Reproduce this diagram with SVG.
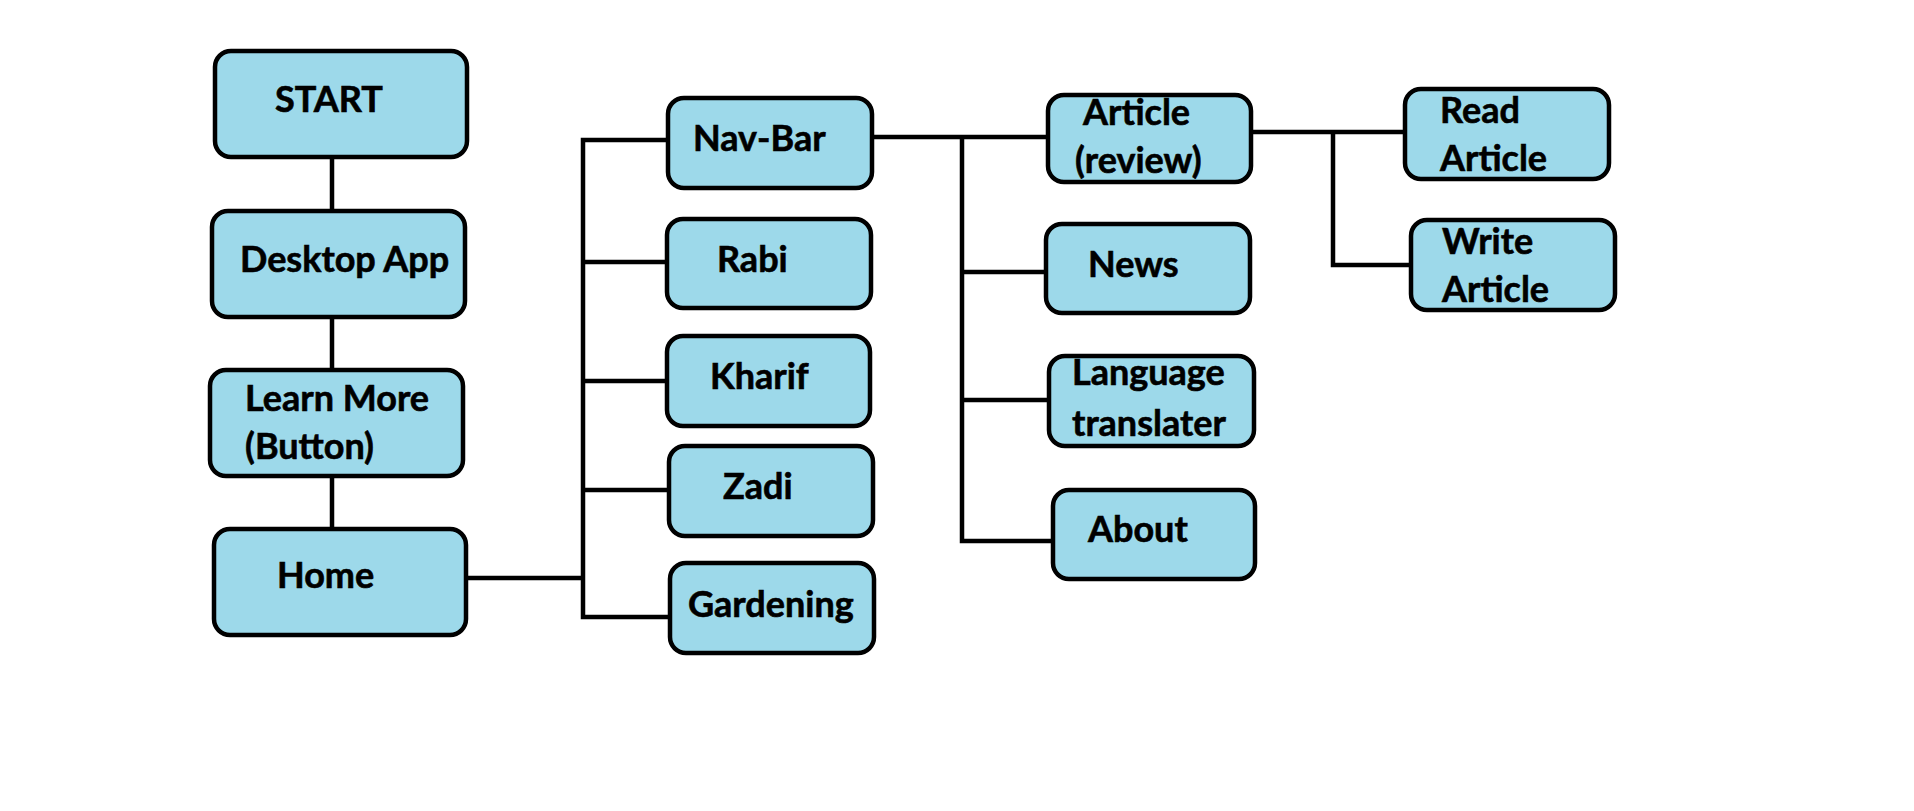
<svg xmlns="http://www.w3.org/2000/svg" width="1914" height="811" viewBox="0 0 1914 811">
<style>
.box{fill:#9DD9EA;stroke:#000;stroke-width:4.5}
.lbl{font-family:Lato,"Liberation Sans",sans-serif;font-weight:bold;font-size:36px;fill:#000;stroke:#000;stroke-width:0.6}
.con{fill:none;stroke:#000;stroke-width:4.5;stroke-linejoin:miter;stroke-linecap:butt}
</style>
<rect width="1914" height="811" fill="#fff"/>
<g id="connectors">
<path class="con" d="M332 159V209M332 319V368M332 478V527"/>
<path class="con" d="M468 578H583M666 140H583V617H668M583 262H665M583 381H665M583 490H667"/>
<path class="con" d="M874 137H1046M962 137V541H1051M962 272H1044M962 400H1047"/>
<path class="con" d="M1253 132H1403M1333 132V265H1409"/>
</g>
<g id="start"><rect class="box" x="215" y="51" width="252" height="106" rx="16"/><text class="lbl" x="275" y="112">START</text></g>
<g id="desktop"><rect class="box" x="212" y="211" width="253" height="106" rx="16"/><text class="lbl" x="240" y="272">Desktop App</text></g>
<g id="learn"><rect class="box" x="210" y="370" width="253" height="106" rx="16"/><text class="lbl" x="245" y="411">Learn More</text><text class="lbl" x="245" y="459">(Button)</text></g>
<g id="home"><rect class="box" x="214" y="529" width="252" height="106" rx="16"/><text class="lbl" x="277" y="588">Home</text></g>
<g id="navbar"><rect class="box" x="668" y="98" width="204" height="90" rx="16"/><text class="lbl" x="693" y="151">Nav-Bar</text></g>
<g id="rabi"><rect class="box" x="667" y="219" width="204" height="89" rx="16"/><text class="lbl" x="717" y="272">Rabi</text></g>
<g id="kharif"><rect class="box" x="667" y="336" width="203" height="90" rx="16"/><text class="lbl" x="710" y="389">Kharif</text></g>
<g id="zadi"><rect class="box" x="669" y="446" width="204" height="90" rx="16"/><text class="lbl" x="723" y="499">Zadi</text></g>
<g id="gardening"><rect class="box" x="670" y="563" width="204" height="90" rx="16"/><text class="lbl" x="688" y="617">Gardening</text></g>
<g id="article"><rect class="box" x="1048" y="95" width="203" height="87" rx="16"/><text class="lbl" x="1083" y="125">Article</text><text class="lbl" x="1075" y="173">(review)</text></g>
<g id="news"><rect class="box" x="1046" y="224" width="204" height="89" rx="16"/><text class="lbl" x="1088" y="277">News</text></g>
<g id="language"><rect class="box" x="1049" y="356" width="205" height="90" rx="16"/><text class="lbl" x="1072" y="385">Language</text><text class="lbl" x="1072" y="436">translater</text></g>
<g id="about"><rect class="box" x="1053" y="490" width="202" height="89" rx="16"/><text class="lbl" x="1088" y="542">About</text></g>
<g id="read"><rect class="box" x="1405" y="89" width="204" height="90" rx="16"/><text class="lbl" x="1440" y="123">Read</text><text class="lbl" x="1440" y="171">Article</text></g>
<g id="write"><rect class="box" x="1411" y="220" width="204" height="90" rx="16"/><text class="lbl" x="1442" y="254">Write</text><text class="lbl" x="1442" y="302">Article</text></g>
</svg>
